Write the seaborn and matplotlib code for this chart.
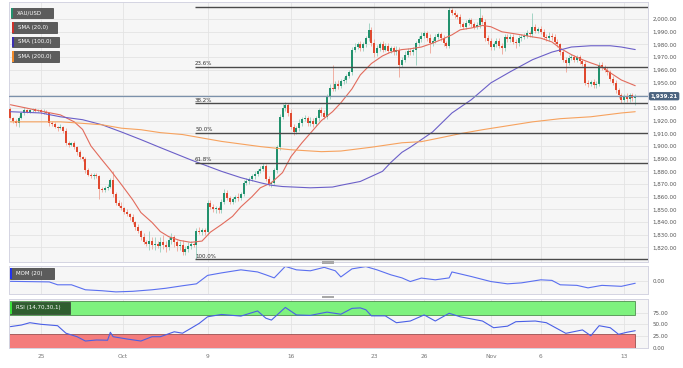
import matplotlib
matplotlib.use("Agg")
import matplotlib.pyplot as plt
from matplotlib.patches import Rectangle
from matplotlib.ticker import FuncFormatter
import numpy as np
import pandas as pd
import seaborn as sns

# XAU/USD 4h candles, Sep 21 -> Nov 13
first_open = 1929.0
closes = [
    1922, 1920, 1918, 1922, 1926, 1928.5, 1927, 1928, 1929, 1927.5,
    1928, 1926.5, 1927, 1926, 1918, 1917, 1915, 1914, 1915, 1912,
    1902, 1901, 1902, 1899, 1895, 1891, 1890, 1881, 1877, 1876,
    1877, 1876, 1866, 1865, 1867, 1868, 1873.5, 1862, 1855, 1853,
    1851, 1848, 1846, 1844, 1840, 1836, 1833, 1828, 1824, 1823,
    1825, 1822, 1823, 1821.5, 1824, 1822, 1820, 1826, 1828, 1824,
    1821, 1822, 1816, 1819, 1821, 1823, 1822, 1833, 1832, 1833.5,
    1832, 1855, 1852, 1850, 1851, 1849.5, 1856, 1863, 1859, 1856,
    1858, 1860, 1859, 1862, 1871, 1872, 1874, 1876, 1878, 1880,
    1882, 1884, 1874, 1870, 1871, 1881, 1899, 1923, 1930, 1932.5,
    1926, 1915, 1911, 1914, 1918, 1921, 1922, 1918, 1920, 1917,
    1922, 1928, 1926, 1923, 1939, 1946, 1945, 1949, 1947, 1951,
    1952, 1955, 1958, 1976, 1978, 1980, 1977, 1980, 1985, 1991.5,
    1981, 1973, 1977, 1980, 1976, 1979, 1975, 1977, 1974, 1976,
    1964, 1968, 1972, 1975, 1974, 1976, 1981, 1984, 1987, 1989,
    1985, 1981, 1983, 1986, 1988, 1985, 1981, 1979, 2007, 2005,
    2003, 2002, 1996, 1994, 1997, 1999, 1996, 1994, 1995, 2001,
    1998, 1985, 1983, 1978, 1980, 1983, 1979, 1977, 1986, 1984,
    1986, 1982, 1981, 1985, 1986, 1987, 1989, 1988, 1994, 1991,
    1992, 1990, 1986, 1985, 1987, 1986, 1982, 1980, 1974, 1968,
    1965.5, 1969.5, 1970, 1968, 1970, 1967, 1965, 1950, 1949, 1950.5,
    1948, 1949, 1964, 1962, 1960, 1958, 1953, 1950, 1944, 1940,
    1936.5, 1939, 1937, 1940, 1937.5, 1939.21,
]
wick_up = [
    1.5, 1, 1, 1.5, 1, 2, 1, 1.5, 1, 1,
    1.5, 1, 2, 1, 1, 1.5, 2, 1, 2, 1,
    2, 2, 1.5, 2, 1, 2, 1, 1.5, 2, 2,
    1.5, 2, 1, 2, 1.5, 2, 1.5, 6.5, 1.5, 2,
    2.5, 1, 2, 1.5, 2, 1, 2.5, 1, 3, 2,
    8, 3, 5, 2, 4, 6, 3, 2, 3, 2,
    2, 3, 4, 2, 3, 2, 1.5, 2, 3, 2,
    2, 2, 2.5, 2, 1.5, 2, 2, 3, 2, 1.5,
    2, 1.5, 3, 2, 2, 2.5, 1.5, 2, 2, 1.5,
    2, 2.5, 1.5, 2, 1.5, 2, 2, 2, 3, 2.5,
    1.5, 3, 2, 2, 3, 2, 2.5, 2, 3, 2,
    2, 2, 3, 2, 2, 3, 18, 2, 3, 2,
    2.5, 2, 2, 2, 3, 2, 2.5, 2, 2, 5.5,
    2, 3, 2.5, 2, 3, 2, 2.5, 2, 2, 2.5,
    2, 2, 2.5, 2, 2, 2, 2, 3, 2.5, 2,
    2, 3, 2, 2.5, 2, 2, 2.5, 2, 2.5, 1.5,
    2, 1.5, 2, 2, 2.5, 2, 1.5, 2, 2.5, 8,
    2, 2, 2.5, 2, 2, 2.5, 2, 2, 2.5, 2,
    2, 2, 2, 2.5, 2, 2, 2.5, 2, 11, 2,
    2, 2.5, 2, 2, 2.5, 2, 2, 2, 1.5, 2,
    2, 2, 2.5, 2, 2, 2, 1.5, 2, 2, 1.5,
    2, 2, 2.5, 2, 2, 2, 1.5, 2, 2, 1.5,
    2, 2, 2.5, 2, 2, 1.5,
]
wick_dn = [
    1, 2, 2.5, 3, 1, 1.5, 1, 1, 1.5, 1,
    1, 1.5, 1, 1, 2, 1.5, 1, 2, 1, 2,
    1.5, 2, 1, 1.5, 2, 1, 1.5, 2, 1, 1.5,
    2, 1, 8, 1.5, 1, 2, 1.5, 2, 1.5, 1,
    1.5, 2, 1, 2, 1.5, 2, 1.5, 2, 1.5, 2,
    5, 3, 4, 2, 5, 3, 4, 2, 3, 4,
    4, 3, 2, 2, 3, 2, 1.5, 11.5, 1.5, 2,
    2, 2, 1.5, 2, 2.5, 2, 2, 1.5, 2, 2,
    1.5, 2, 2.5, 2, 1.5, 2, 2, 1.5, 2, 2,
    1.5, 2, 2, 1.5, 2, 1.5, 2, 2, 2, 2.5,
    2, 2, 2, 1.5, 2, 2, 1.5, 2, 2, 2,
    1.5, 2, 2, 1.5, 2, 2, 1.5, 2, 2, 1.5,
    2, 2, 1.5, 2, 2, 1.5, 2, 2, 2, 2,
    2, 2.5, 2, 2, 2, 1.5, 2, 2, 2, 2,
    10, 2, 2, 1.5, 2, 2, 12, 2, 2, 2,
    2, 8, 2, 2, 1.5, 2, 2.5, 2, 2, 2,
    2, 2, 2.5, 2, 2, 1.5, 2, 2, 2, 2,
    2, 2, 2.5, 2, 2, 2, 2, 4.5, 2, 2,
    2, 2, 4, 2, 2, 1.5, 2, 2, 2, 2,
    2, 2, 2, 2, 2, 2.5, 2, 2, 2, 2,
    7, 2, 2, 2, 2, 2, 2, 2, 2.5, 2,
    2, 2, 2, 2.5, 2, 2, 2, 2, 2, 2,
    2.5, 2, 2, 2, 2, 5,
]

# moving averages, sampled along the candles
sma20_idx = [0, 11, 18, 23, 26, 29, 33, 36, 40, 44, 47, 51, 54, 57, 61, 65, 69, 72,
             76, 80, 83, 87, 90, 94, 98, 101, 105, 108, 112, 116, 119, 123, 126, 130,
             134, 137, 141, 144, 148, 152, 155, 159, 162, 166, 170, 173, 177, 180, 184,
             188, 191, 195, 198, 202, 206, 209, 213, 216, 220, 225]
sma20 = [1932.5, 1927.5, 1924.5, 1919, 1913, 1900, 1889, 1881, 1869.5, 1857.7, 1847.5,
         1839.7, 1832.5, 1828.5, 1825.5, 1824, 1825, 1832, 1838, 1844.5, 1852, 1860,
         1867, 1871, 1879, 1891.5, 1902.5, 1910, 1920, 1927, 1934, 1945, 1956, 1965,
         1971, 1974, 1976, 1976.6, 1978, 1981, 1983.7, 1987.6, 1991.6, 1993, 1995,
         1994, 1990, 1989, 1987.6, 1986, 1985, 1982, 1977, 1972, 1968, 1965.5, 1962.5,
         1957.7, 1952, 1947.5]
sma100_idx = [0, 11, 18, 26, 33, 40, 47, 54, 65, 76, 83, 90, 94, 98, 108, 116, 119,
              126, 134, 137, 141, 144, 148, 152, 159, 166, 173, 180, 188, 195, 202, 209,
              216, 220, 225]
sma100 = [1927, 1926, 1923, 1920.7, 1916.7, 1911, 1905, 1898.7, 1889, 1880, 1875,
          1871, 1869, 1868, 1867, 1867.6, 1869, 1872, 1880, 1887, 1895, 1899, 1905,
          1911, 1926, 1936.5, 1949.7, 1958.5, 1968, 1974, 1978, 1979, 1979, 1978, 1976]
sma200_idx = [0, 11, 18, 23, 33, 40, 47, 54, 62, 76, 90, 101, 112, 119, 130, 141, 148,
              155, 162, 170, 177, 188, 198, 209, 220, 225]
sma200 = [1919, 1919, 1919, 1918.3, 1916.7, 1914, 1912.8, 1910.5, 1909, 1903.6, 1899.5,
          1897, 1895.5, 1896, 1899, 1902.5, 1903.4, 1906.5, 1909.7, 1912.8, 1915.2, 1919,
          1921.5, 1923, 1926, 1927]

# MOM (20)
mom_idx = [0, 14, 17, 22, 27, 33, 38, 44, 51, 56, 62, 67, 71, 76, 83, 89, 92, 95, 99,
           103, 108, 113, 117, 119, 123, 128, 132, 137, 141, 144, 148, 153, 158, 159,
           166, 173, 179, 184, 191, 195, 198, 204, 208, 213, 220, 225]
mom = [0, -3, -18, -18, -44, -49, -55, -52, -44, -36, -23, -13, 31, 44, 60, 49, 34, 18,
       78, 60, 55, 73, 55, 23, 65, 77, 60, 34, 18, -1, 17, 8, 18, 49, 25, -1, -13, -8,
       8, 5, -18, -21, -34, -21, -26, -10]

# RSI (14,70,30,1)
rsi_idx = [0, 4, 7, 11, 17, 20, 24, 27, 31, 35, 36, 37, 42, 47, 51, 54, 59, 62, 65, 68,
           71, 76, 83, 89, 92, 94, 99, 103, 108, 114, 119, 123, 126, 128, 130, 135, 139,
           144, 149, 153, 158, 162, 170, 174, 179, 182, 189, 193, 200, 206, 209, 212,
           216, 219, 222, 225]
rsi = [45, 48.5, 53.4, 50, 47, 31, 23.5, 14.3, 16.5, 16, 33, 23.5, 18.6, 14.3, 23.5,
       23.5, 34, 31, 41.4, 52, 66, 71, 67.5, 78.5, 63, 59, 86, 70, 69, 76, 71.5, 84, 85,
       81, 68, 68, 53.4, 57, 70, 57, 73.5, 66, 57, 42.7, 46, 55.5, 57, 53.4, 30.7, 38,
       25.6, 47, 42.7, 28.6, 33, 36.3]

date_ticks = [11, 40.5, 71, 101, 131, 149, 173, 191, 221]
date_labels = ["25", "Oct", "9", "16", "23", "26", "Nov", "6", "13"]

W, H = 683, 368
sns.set_style("white")
plt.rcParams["font.family"] = ["DejaVu Sans"]

fig = plt.figure(figsize=(W / 100, H / 100), dpi=100)


def px_axes(x0, y0, x1, y1):
    return fig.add_axes([x0 / W, 1 - y1 / H, (x1 - x0) / W, (y1 - y0) / H])


ax = px_axes(9, 2, 648, 262)
ax_mom = px_axes(9, 266, 648, 294)
ax_rsi = px_axes(9, 299, 648, 348)
xmax = 229.6

for a in (ax, ax_mom, ax_rsi):
    a.set_facecolor("#f6f6f6")
    a.set_xlim(-0.5, xmax)
    a.set_xticks(date_ticks)
    a.grid(True, color="#e3e3e3", lw=0.6)
    a.set_axisbelow(True)
    a.yaxis.tick_right()
    a.tick_params(axis="both", length=0, labelsize=4, labelcolor="#555555", pad=3)
    a.tick_params(axis="x", labelbottom=False)
    for s in a.spines.values():
        s.set_color("#d4d4e2")
        s.set_linewidth(0.7)

# ---- candles ----
df = pd.DataFrame({"close": closes})
df["k"] = np.arange(len(df))
df["open"] = [first_open] + closes[:-1]
df["high"] = df[["open", "close"]].max(axis=1) + wick_up
df["low"] = df[["open", "close"]].min(axis=1) - wick_dn
up = df["close"] >= df["open"]

ax.vlines(df["k"], df["low"], df["high"],
          colors=np.where(up, "#96cfbd", "#f0a496"), lw=0.6, zorder=2)
ax.bar(df["k"], (df["close"] - df["open"]).abs().clip(lower=0.4),
       bottom=df[["open", "close"]].min(axis=1), width=0.72,
       color=np.where(up, "#22916d", "#e0492f"), lw=0, zorder=3)

sns.lineplot(x=sma20_idx, y=sma20, ax=ax, color="#e26b5c", lw=0.8, zorder=4)
sns.lineplot(x=sma100_idx, y=sma100, ax=ax, color="#6b5fc8", lw=0.8, zorder=4)
sns.lineplot(x=sma200_idx, y=sma200, ax=ax, color="#f6a25e", lw=0.8, zorder=4)

# Fibonacci retracement from the low to the high
hi, lo = df["high"].max(), df["low"].min()
k_lo = df["low"].idxmin()
for r in [0, 0.236, 0.382, 0.5, 0.618, 1.0]:
    lvl = hi - r * (hi - lo)
    ax.hlines(lvl, k_lo - 0.5, xmax, color="#4a4a4a", lw=1.0, zorder=5)
    if r > 0:
        ax.annotate(f"{r * 100:.1f}%", (k_lo - 0.5, lvl), xytext=(0, 0.6),
                    textcoords="offset points", fontsize=4, color="#333333",
                    va="bottom", ha="left")

last = closes[-1]
ax.axhline(last, color="#7b91ab", lw=0.9, zorder=5)
ax.text(1.004, last, f"{last:,.2f}", transform=ax.get_yaxis_transform(),
        fontsize=4, color="white", fontweight="bold", va="center", ha="left",
        bbox=dict(boxstyle="round,pad=0.3", fc="#4b6480", ec="none"))

ax.set_ylim(1808.5, 2013.5)
ax.set_yticks(range(1820, 2001, 10))
ax.yaxis.set_major_formatter(FuncFormatter(lambda v, p: "" if v == 1940 else f"{v:,.2f}"))

# ---- MOM ----
sns.lineplot(x=mom_idx, y=mom, ax=ax_mom, color="#5a6ff0", lw=0.8)
ax_mom.set_ylim(-66, 80)
ax_mom.set_yticks([0])
ax_mom.yaxis.set_major_formatter(FuncFormatter(lambda v, p: f"{v:.2f}"))

# ---- RSI ----
last_k = len(closes) - 1
ax_rsi.add_patch(Rectangle((-0.5, 70), last_k + 0.5, 30, fc="#7ef27e", ec="#4f8f4f", lw=0.6, zorder=1))
ax_rsi.add_patch(Rectangle((-0.5, 0), last_k + 0.5, 30, fc="#f47c7c", ec="#9a4f4f", lw=0.6, zorder=1))
sns.lineplot(x=rsi_idx, y=rsi, ax=ax_rsi, color="#4a5fe6", lw=0.8, zorder=3)
ax_rsi.set_ylim(-0.6, 104)
ax_rsi.set_yticks([0, 25, 50, 75])
ax_rsi.yaxis.set_major_formatter(FuncFormatter(lambda v, p: f"{v:.2f}"))
ax_rsi.set_xticklabels(date_labels)
ax_rsi.tick_params(axis="x", labelbottom=True, labelsize=4.2, labelcolor="#777777", pad=4)

for a in (ax, ax_mom, ax_rsi):
    a.set_xlabel("")
    a.set_ylabel("")


# legend tags
def tag(x0, y0, x1, y1, text, fc, bar):
    fig.add_artist(Rectangle((x0 / W, 1 - y1 / H), (x1 - x0) / W, (y1 - y0) / H,
                             transform=fig.transFigure, fc=fc, ec="#3c3c3c", lw=0.5, zorder=10))
    fig.add_artist(Rectangle((x0 / W, 1 - y1 / H), 2 / W, (y1 - y0) / H,
                             transform=fig.transFigure, fc=bar, ec="none", zorder=11))
    fig.text((x0 + 6) / W, 1 - (y0 + y1) / 2 / H, text, color="white", fontsize=4,
             va="center", ha="left", zorder=12)


tag(11, 8, 53, 18, "XAU/USD", "#5c5c5c", "#22916d")
tag(12, 22, 57, 33, "SMA (20,0)", "#5c5c5c", "#d0302a")
tag(12, 37, 59, 47, "SMA (100,0)", "#5c5c5c", "#3b2fb0")
tag(12, 51, 59, 62, "SMA (200,0)", "#5c5c5c", "#f28a2a")
tag(10, 268, 54, 279, "MOM (20)", "#5c5c5c", "#2233ee")
tag(10, 302, 70, 314, "RSI (14,70,30,1)", "#2f5e2f", "#3be03b")

# panel resize handles
for yy in (261, 295.5):
    fig.add_artist(Rectangle((322 / W, 1 - (yy + 2.5) / H), 12 / W, 2.5 / H,
                             transform=fig.transFigure, fc="#a8a8a8", ec="none", zorder=12))

fig.savefig("out.png", dpi=100, facecolor="white")
